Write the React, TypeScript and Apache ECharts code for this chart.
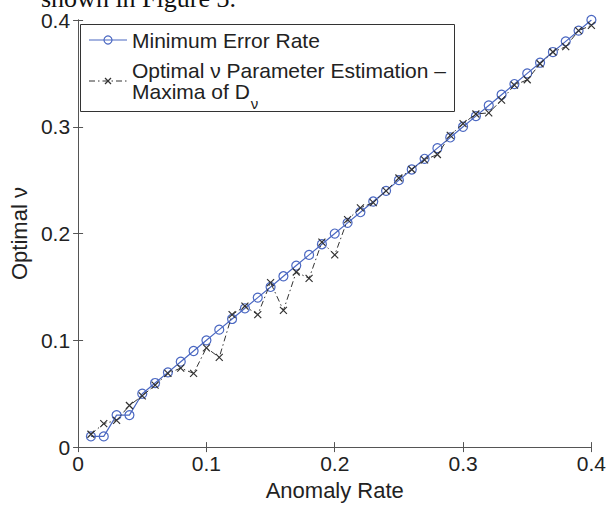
import React, { useEffect, useRef } from "react";
import * as echarts from "echarts";

const anomalyRate = [
  0.01, 0.02, 0.03, 0.04, 0.05, 0.06, 0.07, 0.08, 0.09, 0.1,
  0.11, 0.12, 0.13, 0.14, 0.15, 0.16, 0.17, 0.18, 0.19, 0.2,
  0.21, 0.22, 0.23, 0.24, 0.25, 0.26, 0.27, 0.28, 0.29, 0.3,
  0.31, 0.32, 0.33, 0.34, 0.35, 0.36, 0.37, 0.38, 0.39, 0.4,
];

const minimumErrorRate = [
  0.01, 0.01, 0.03, 0.03, 0.05, 0.06, 0.07, 0.08, 0.09, 0.1,
  0.11, 0.12, 0.13, 0.14, 0.15, 0.16, 0.17, 0.18, 0.19, 0.2,
  0.21, 0.22, 0.23, 0.24, 0.25, 0.26, 0.27, 0.28, 0.29, 0.3,
  0.31, 0.32, 0.33, 0.34, 0.35, 0.36, 0.37, 0.38, 0.39, 0.4,
];

const maximaEstimate = [
  0.012, 0.022, 0.025, 0.039, 0.048, 0.058, 0.069, 0.074, 0.069, 0.093,
  0.084, 0.124, 0.132, 0.124, 0.154, 0.128, 0.164, 0.158, 0.192, 0.18,
  0.213, 0.224, 0.229, 0.24, 0.252, 0.26, 0.269, 0.274, 0.292, 0.303,
  0.312, 0.313, 0.325, 0.339, 0.344, 0.359, 0.37, 0.375, 0.39, 0.395,
];

const seriesNames = ["Minimum Error Rate", "Optimal ν Parameter Estimation –", "Maxima of D", "ν"];
const axisNames = ["Anomaly Rate", "Optimal ν"];
const topText = "shown in Figure 3.";

const FONT = '"Liberation Sans", Arial, sans-serif';
const BLUE = "#4b68c2";
const DARK = "#333333";
const AXIS = "#555555";
const TXT = "#222222";

function measure(text: string, font: string): number {
  const c = document.createElement("canvas").getContext("2d");
  if (!c) return text.length * 10;
  c.font = font;
  return c.measureText(text).width;
}

export default function App() {
  const ref = useRef<HTMLDivElement>(null);

  useEffect(() => {
    if (!ref.current) return;
    const chart = echarts.init(ref.current, undefined, { renderer: "svg" });

    const axisCommon = {
      type: "value" as const,
      min: 0,
      max: 0.4,
      interval: 0.1,
      splitLine: { show: false },
      axisLine: { show: true, lineStyle: { color: AXIS, width: 1 } },
      axisTick: { show: true, inside: true, length: 5, lineStyle: { color: AXIS } },
    };

    const legX = 80;
    const legY = 24;
    const textX = 132;
    const maximaWidth = measure(seriesNames[2], `21px ${FONT}`);

    chart.setOption({
      animation: false,
      backgroundColor: "#ffffff",
      grid: { left: 77, right: 12, top: 20, bottom: 51, containLabel: false },
      xAxis: [
        {
          ...axisCommon,
          position: "bottom",
          name: axisNames[0],
          nameLocation: "middle",
          nameGap: 26,
          nameTextStyle: { fontSize: 22, color: TXT, fontFamily: FONT },
          axisLabel: { fontSize: 21, color: TXT, fontFamily: FONT, margin: 6 },
        },
        {
          ...axisCommon,
          position: "top",
          axisLabel: { show: false },
        },
      ],
      yAxis: [
        {
          ...axisCommon,
          position: "left",
          name: axisNames[1],
          nameLocation: "middle",
          nameGap: 44,
          nameTextStyle: { fontSize: 22, color: TXT, fontFamily: FONT },
          axisLabel: { fontSize: 21, color: TXT, fontFamily: FONT, margin: 8 },
        },
        {
          ...axisCommon,
          position: "right",
          axisLabel: { show: false },
        },
      ],
      series: [
        {
          name: seriesNames[0],
          type: "line",
          xAxisIndex: 0,
          yAxisIndex: 0,
          data: anomalyRate.map((x, i) => [x, minimumErrorRate[i]]),
          symbol: "circle",
          symbolSize: 9,
          lineStyle: { color: BLUE, width: 1.2 },
          itemStyle: { color: "transparent", borderColor: BLUE, borderWidth: 1.2 },
          z: 3,
        },
        {
          name: seriesNames[1] + " " + seriesNames[2] + seriesNames[3],
          type: "line",
          xAxisIndex: 0,
          yAxisIndex: 0,
          data: anomalyRate.map((x, i) => [x, maximaEstimate[i]]),
          symbol: "path://M0,0L10,10M10,0L0,10",
          symbolSize: 7,
          lineStyle: { color: DARK, width: 1, type: [6, 3, 1.5, 3] },
          itemStyle: { color: "transparent", borderColor: DARK, borderWidth: 1.2 },
          z: 4,
        },
      ],
      graphic: [
        {
          type: "text",
          left: undefined,
          x: 236,
          y: 11,
          style: {
            text: topText,
            font: '26px "Liberation Serif", "Times New Roman", serif',
            fill: "#111",
            textAlign: "right",
            textVerticalAlign: "bottom",
          },
          z: 100,
        },
        {
          type: "group",
          z: 100,
          children: [
            {
              type: "rect",
              shape: { x: legX + 0.5, y: legY + 0.5, width: 374, height: 87 },
              style: { fill: "#ffffff", stroke: DARK, lineWidth: 1 },
            },
            {
              type: "line",
              shape: { x1: 89, y1: 40, x2: 127, y2: 40 },
              style: { stroke: BLUE, lineWidth: 1.2 },
            },
            {
              type: "circle",
              shape: { cx: 108, cy: 40, r: 4 },
              style: { fill: "none", stroke: BLUE, lineWidth: 1.2 },
            },
            {
              type: "text",
              x: textX,
              y: 40,
              style: {
                text: seriesNames[0],
                font: `21px ${FONT}`,
                fill: TXT,
                textVerticalAlign: "middle",
              },
            },
            {
              type: "line",
              shape: { x1: 89, y1: 81, x2: 127, y2: 81 },
              style: { stroke: DARK, lineWidth: 1, lineDash: [6, 3, 1.5, 3] },
            },
            {
              type: "line",
              shape: { x1: 105, y1: 78, x2: 111, y2: 84 },
              style: { stroke: DARK, lineWidth: 1.2 },
            },
            {
              type: "line",
              shape: { x1: 111, y1: 78, x2: 105, y2: 84 },
              style: { stroke: DARK, lineWidth: 1.2 },
            },
            {
              type: "text",
              x: textX,
              y: 70,
              style: {
                text: seriesNames[1],
                font: `21px ${FONT}`,
                fill: TXT,
                textVerticalAlign: "middle",
              },
            },
            {
              type: "text",
              x: textX,
              y: 91,
              style: {
                text: seriesNames[2],
                font: `21px ${FONT}`,
                fill: TXT,
                textVerticalAlign: "middle",
              },
            },
            {
              type: "text",
              x: textX + maximaWidth + 1,
              y: 103,
              style: {
                text: seriesNames[3],
                font: `15px ${FONT}`,
                fill: TXT,
                textVerticalAlign: "middle",
              },
            },
          ],
        },
      ],
    });

    return () => chart.dispose();
  }, []);

  return (
    <div
      ref={ref}
      style={{ position: "fixed", left: 0, top: 0, width: 609, height: 506, background: "#fff" }}
    />
  );
}
